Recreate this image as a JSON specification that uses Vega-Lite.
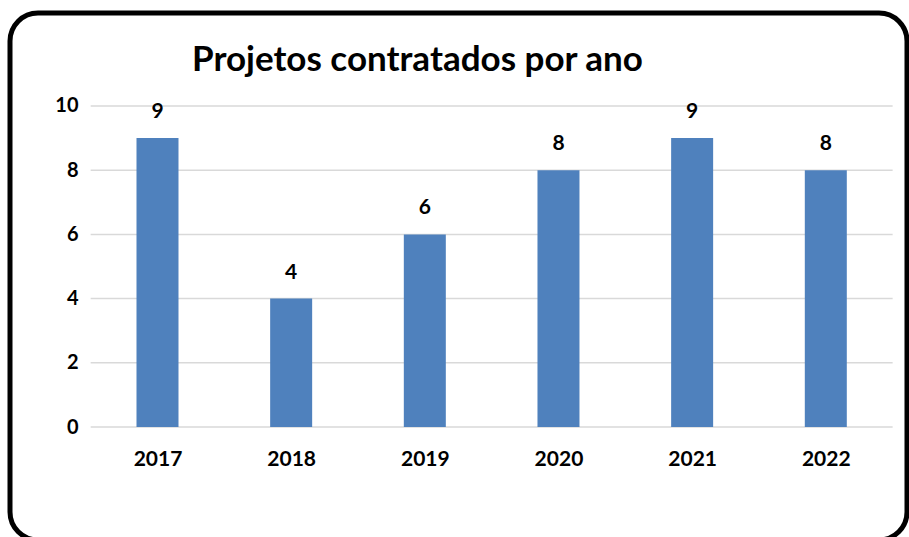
{
  "$schema": "https://vega.github.io/schema/vega-lite/v6.json",
  "width": 897,
  "height": 527,
  "autosize": {"type": "none"},
  "padding": {"left": 10, "top": 13, "right": 2, "bottom": 0},
  "background": "white",
  "title": {
    "text": "Projetos contratados por ano",
    "font": "Lato",
    "fontSize": 35,
    "fontWeight": "bold",
    "color": "black",
    "anchor": "middle",
    "dx": -41,
    "offset": -93,
    "baseline": "alphabetic"
  },
  "config": {
    "view": {"stroke": "black", "strokeWidth": 5, "cornerRadius": 28},
    "font": "Lato"
  },
  "data": {
    "values": [
      {"ano": 2017, "projetos": 9},
      {"ano": 2018, "projetos": 4},
      {"ano": 2019, "projetos": 6},
      {"ano": 2020, "projetos": 8},
      {"ano": 2021, "projetos": 9},
      {"ano": 2022, "projetos": 8}
    ]
  },
  "layer": [
    {
      "data": {"values": [{"g": 0}, {"g": 2}, {"g": 4}, {"g": 6}, {"g": 8}, {"g": 10}]},
      "mark": {"type": "rule", "color": "#d9d9d9", "strokeWidth": 1.5},
      "encoding": {
        "y": {"field": "g", "type": "quantitative",
              "scale": {"domain": [-3.52, 12.897], "nice": false, "zero": false, "padding": 0},
              "axis": {"values": [0, 2, 4, 6, 8, 10], "title": null,
                       "labelFont": "Lato", "labelFontSize": 20, "labelFontWeight": "bold", "labelColor": "black",
                       "domain": false, "ticks": false, "grid": false, "labelPadding": 2, "offset": -70,
                       "labelOverlap": false, "labelBound": false, "labelFlush": false}},
        "x": {"datum": 2016.5, "type": "quantitative",
              "scale": {"domain": [2015.8965, 2022.6075], "nice": false, "zero": false, "padding": 0},
              "axis": {"values": [2017, 2018, 2019, 2020, 2021, 2022], "format": "d", "title": null,
                       "labelFont": "Lato", "labelFontSize": 21, "labelFontWeight": "bold", "labelColor": "black",
                       "domain": false, "ticks": false, "grid": false, "labelPadding": 0, "offset": -92,
                       "labelFlush": false, "labelOverlap": false, "labelBound": false}},
        "x2": {"datum": 2022.5}
      }
    },
    {
      "mark": {"type": "bar", "width": 42, "color": "#4F81BD"},
      "encoding": {
        "x": {"field": "ano", "type": "quantitative"},
        "y": {"field": "projetos", "type": "quantitative"},
        "y2": {"datum": 0}
      }
    },
    {
      "mark": {"type": "text", "baseline": "bottom", "dy": -16, "font": "Lato", "fontSize": 21, "fontWeight": "bold", "color": "black"},
      "encoding": {
        "x": {"field": "ano", "type": "quantitative"},
        "y": {"field": "projetos", "type": "quantitative"},
        "text": {"field": "projetos", "type": "quantitative"}
      }
    }
  ]
}
